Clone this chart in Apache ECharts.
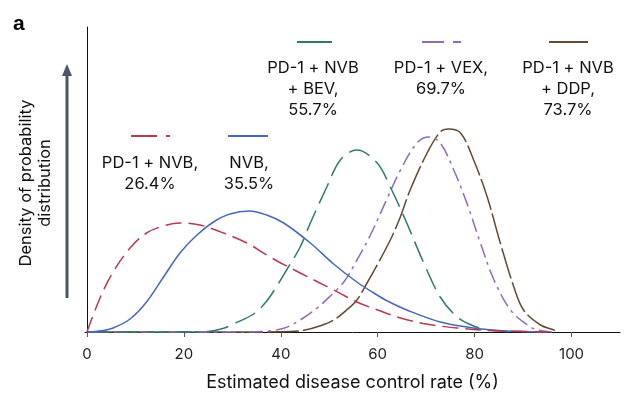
<!DOCTYPE html>
<html><head><meta charset="utf-8">
<script src="https://cdn.jsdelivr.net/npm/echarts@6/dist/echarts.min.js"></script>
<style>html,body{margin:0;padding:0;background:#fff}#c{width:639px;height:406px}</style>
</head><body><div id="c"></div>
<script>
// Values: [x (%), density in arbitrary units]
const pd1Nvb = [[0,0],[2.7,34],[5.4,60],[8.9,84],[12.3,99],[15.8,106],[19.2,109],[23.3,107],[28.2,99],[33,89],[37.1,77],[40,69],[44,59],[50.9,42],[55.7,30],[60,22],[64.7,14],[70,8],[76.4,4],[83,1.5],[90,0.5],[95,0]];
const nvb = [[0,0],[3,1.2],[5.4,4],[8.9,13],[12.3,30],[15.8,55],[19.2,79],[22.7,97],[26.1,110],[29.5,118],[33.5,121],[37.1,117],[40.6,109],[46.1,89],[50.9,68],[55.7,50],[59.2,39],[62,31],[66,22],[72.9,10],[79.8,4],[85,1.5],[90,0.5],[95,0]];
const pd1NvbBev = [[0,0],[20,0],[25,0.5],[28.2,3.7],[30.2,8],[34.4,18],[37.1,31],[39.2,46],[41.2,62],[44,85],[46.1,109],[49.5,145],[52.3,172],[55.7,182],[59.9,169],[62.6,145],[66,109],[69.5,69],[72.9,35],[76.4,15],[79.8,6],[83,2],[88,0]];
const pd1Vex = [[0,0],[30,0],[36,0.5],[40.6,3.7],[44,12],[47.5,24],[50,35],[53,50],[55.5,70],[58.5,97],[61.9,133],[64.7,162],[68.1,189],[70.5,195],[72.9,189],[75.7,162],[78.4,129],[81.2,89],[84,52],[87.4,22],[90.9,7],[93,2],[96,0]];
const pd1NvbDdp = [[0,0],[35,0],[42,0.5],[45,2],[48,6],[50.9,12],[53.6,22],[55.7,32],[57.8,49],[60,68],[62.6,92],[64.5,113],[66.7,142],[70.2,179],[72.9,200],[74.6,203],[77.1,199],[79.8,172],[82.6,135],[85.3,89],[88.1,45],[90.1,22],[93.6,7],[96.4,2],[97,0]];
const xTicks = [0,20,40,60,80,100];
const labels = ['PD-1 + NVB,\n26.4%','NVB,\n35.5%','PD-1 + NVB\n+ BEV,\n55.7%','PD-1 + VEX,\n69.7%','PD-1 + NVB\n+ DDP,\n73.7%'];

const colors = ['#b83a4b','#4567bd','#2f7a6c','#8c6cbb','#634a33'];
const dashes = [[16,7],'solid',[22,8],[14,5,3,5],[32,4]];
const datas = [pd1Nvb,nvb,pd1NvbBev,pd1Vex,pd1NvbDdp];
const FONT = 'Inter, "Noto Sans", sans-serif';

const chart = echarts.init(document.getElementById('c'));
const series = datas.map((d,i)=>({
  type:'line', data:d, smooth:0.35, showSymbol:false, symbol:'none',
  lineStyle:{color:colors[i], width:1.5, type:dashes[i]}, z: 5-i
}));

// legend layout (pixel positions)
const leg = [
  {x1:131,x2:170,y:136,tx:150,ty:153},
  {x1:228,x2:268,y:136,tx:249,ty:153},
  {x1:297,x2:332,y:42,tx:313,ty:58},
  {x1:422,x2:461,y:42,tx:441,ty:58},
  {x1:549,x2:588,y:42,tx:568,ty:58}
];
const graphic = [];
leg.forEach((l,i)=>{
  graphic.push({type:'line', shape:{x1:l.x1,y1:l.y,x2:l.x2,y2:l.y}, style:{stroke:colors[i], lineWidth:2, lineDash: dashes[i]==='solid'||i===2||i===4?null:(i===0?[26,9]:[22,9])}});
  graphic.push({type:'text', x:l.tx, y:l.ty, style:{text:labels[i], font:'16.5px '+FONT, fill:'#111', align:'center', verticalAlign:'top', lineHeight:21}});
});
// y arrow
graphic.push({type:'line', shape:{x1:67,y1:298,x2:67,y2:74}, style:{stroke:'#4a5668', lineWidth:3}});
graphic.push({type:'polygon', shape:{points:[[62,76],[72,76],[67,64]]}, style:{fill:'#4a5668'}});
// y axis title
graphic.push({type:'text', x:36, y:183, rotation:Math.PI/2, style:{text:'Density of probability\ndistribution', font:'16.5px '+FONT, fill:'#111', align:'center', verticalAlign:'middle', lineHeight:19}});
// panel letter
graphic.push({type:'text', x:13, y:14, style:{text:'a', font:'bold 21px Arial, "Liberation Sans", sans-serif', fill:'#000'}});

chart.setOption({
  animation:false,
  grid:{left:85, top:27, width:535, bottom:70},
  xAxis:{type:'value', min:-0.4, max:110,
    name:'Estimated disease control rate (%)', nameLocation:'middle', nameGap:38,
    nameTextStyle:{fontFamily:FONT, fontSize:18, color:'#111'},
    axisLine:{lineStyle:{color:'#111', width:1}},
    axisTick:{show:true, length:5, customValues:xTicks, lineStyle:{color:'#555'}},
    axisLabel:{customValues:xTicks, fontFamily:FONT, fontSize:15, color:'#222', margin:11},
    splitLine:{show:false}},
  yAxis:{type:'value', min:-4, max:305,
    axisLine:{show:true, lineStyle:{color:'#111', width:1}},
    axisTick:{show:false}, axisLabel:{show:false}, splitLine:{show:false}},
  series:series,
  graphic:graphic
});
</script></body></html>
